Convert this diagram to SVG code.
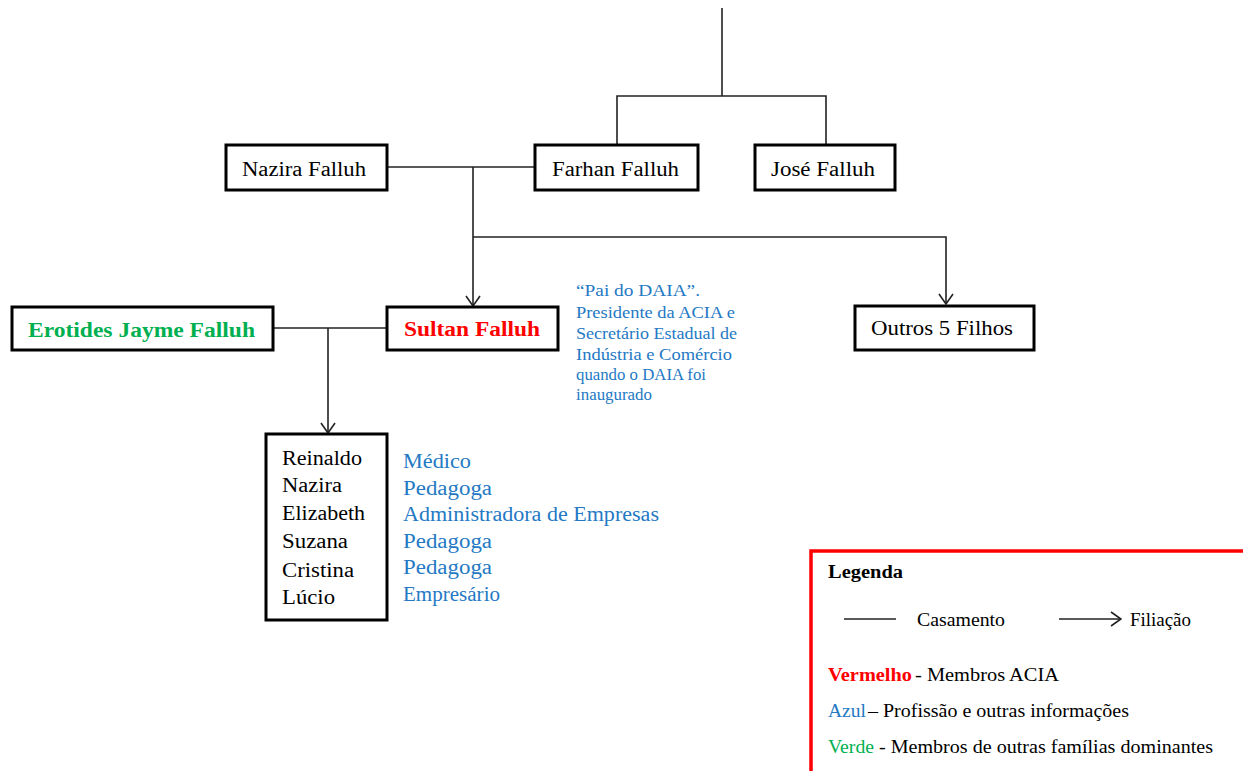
<svg xmlns="http://www.w3.org/2000/svg" width="1243" height="771" viewBox="0 0 1243 771">
  <style>
    .box { fill: #ffffff; stroke: #000000; stroke-width: 3; }
    .link { fill: none; stroke: #222222; stroke-width: 1.6; }
    .t { font-family: "Liberation Serif", "Times New Roman", serif; font-size: 20px; fill: #000000; }
    .note { font-family: "Liberation Serif", "Times New Roman", serif; font-size: 16px; fill: #2479c4; }
    .leg { font-family: "Liberation Serif", "Times New Roman", serif; font-size: 18px; fill: #000000; }
    .b { font-weight: bold; }
    .red { fill: #ff0000; }
    .green { fill: #00b050; }
    .blue { fill: #2479c4; }
  </style>
  <defs>
    <marker id="arrow" viewBox="0 0 12 16" refX="11" refY="8" markerWidth="12" markerHeight="16" markerUnits="userSpaceOnUse" orient="auto">
      <path d="M1,1 L11,8 L1,15" fill="none" stroke="#222222" stroke-width="1.6"/>
    </marker>
  </defs>

  <rect width="1243" height="771" fill="#ffffff"/>

  <!-- connectors -->
  <g id="connectors">
    <path class="link" d="M722,8 V96"/>
    <path class="link" d="M617,145 V96 H826 V145"/>
    <path class="link" d="M387,167 H535"/>
    <path class="link" d="M473,167 V306" marker-end="url(#arrow)"/>
    <path class="link" d="M473,237 H946 V304" marker-end="url(#arrow)"/>
    <path class="link" d="M273,328 H387"/>
    <path class="link" d="M328,328 V433" marker-end="url(#arrow)"/>
  </g>

  <!-- nodes -->
  <g id="nazira">
    <rect class="box" x="226" y="145" width="161" height="45"/>
    <text class="t" x="242" y="176" textLength="124" lengthAdjust="spacingAndGlyphs">Nazira Falluh</text>
  </g>
  <g id="farhan">
    <rect class="box" x="535" y="145" width="163" height="45"/>
    <text class="t" x="552" y="176" textLength="127" lengthAdjust="spacingAndGlyphs">Farhan Falluh</text>
  </g>
  <g id="jose">
    <rect class="box" x="755" y="145" width="140" height="45"/>
    <text class="t" x="771" y="176" textLength="104" lengthAdjust="spacingAndGlyphs">José Falluh</text>
  </g>
  <g id="erotides">
    <rect class="box" x="12" y="307" width="261" height="43"/>
    <text class="t b green" x="28" y="337" textLength="227" lengthAdjust="spacingAndGlyphs">Erotides Jayme Falluh</text>
  </g>
  <g id="sultan">
    <rect class="box" x="387" y="307" width="171" height="43"/>
    <text class="t b red" x="404" y="336" textLength="136" lengthAdjust="spacingAndGlyphs">Sultan Falluh</text>
  </g>
  <g id="outros">
    <rect class="box" x="855" y="306" width="179" height="44"/>
    <text class="t" x="871" y="335" textLength="142" lengthAdjust="spacingAndGlyphs">Outros 5 Filhos</text>
  </g>
  <g id="filhos">
    <rect class="box" x="266" y="434" width="121" height="186"/>
    <text class="t" x="282" y="465" textLength="80" lengthAdjust="spacingAndGlyphs">Reinaldo</text>
    <text class="t" x="282" y="492" textLength="60" lengthAdjust="spacingAndGlyphs">Nazira</text>
    <text class="t" x="282" y="520" textLength="83" lengthAdjust="spacingAndGlyphs">Elizabeth</text>
    <text class="t" x="282" y="548" textLength="66" lengthAdjust="spacingAndGlyphs">Suzana</text>
    <text class="t" x="282" y="577" textLength="72" lengthAdjust="spacingAndGlyphs">Cristina</text>
    <text class="t" x="282" y="604" textLength="53" lengthAdjust="spacingAndGlyphs">Lúcio</text>
  </g>

  <!-- professions of the children -->
  <g id="profissoes">
    <text class="t blue" x="403" y="468" textLength="68" lengthAdjust="spacingAndGlyphs">Médico</text>
    <text class="t blue" x="403" y="495" textLength="89" lengthAdjust="spacingAndGlyphs">Pedagoga</text>
    <text class="t blue" x="403" y="521" textLength="256" lengthAdjust="spacingAndGlyphs">Administradora de Empresas</text>
    <text class="t blue" x="403" y="548" textLength="89" lengthAdjust="spacingAndGlyphs">Pedagoga</text>
    <text class="t blue" x="403" y="574" textLength="89" lengthAdjust="spacingAndGlyphs">Pedagoga</text>
    <text class="t blue" x="403" y="601" textLength="97" lengthAdjust="spacingAndGlyphs">Empresário</text>
  </g>

  <!-- note on Sultan Falluh -->
  <g id="nota-sultan">
    <text class="note" x="576" y="296" textLength="124" lengthAdjust="spacingAndGlyphs">“Pai do DAIA”.</text>
    <text class="note" x="576" y="318" textLength="159" lengthAdjust="spacingAndGlyphs">Presidente da ACIA e</text>
    <text class="note" x="576" y="339" textLength="161" lengthAdjust="spacingAndGlyphs">Secretário Estadual de</text>
    <text class="note" x="576" y="360" textLength="156" lengthAdjust="spacingAndGlyphs">Indústria e Comércio</text>
    <text class="note" x="576" y="380" textLength="130" lengthAdjust="spacingAndGlyphs">quando o DAIA foi</text>
    <text class="note" x="576" y="400" textLength="76" lengthAdjust="spacingAndGlyphs">inaugurado</text>
  </g>

  <!-- legend -->
  <g id="legenda">
    <rect x="811" y="551" width="500" height="300" fill="#ffffff" stroke="#ff0000" stroke-width="3.5"/>
    <text class="leg b" x="828" y="578" textLength="75" lengthAdjust="spacingAndGlyphs">Legenda</text>
    <path class="link" d="M844,619 H896"/>
    <text class="leg" x="917" y="626" textLength="88" lengthAdjust="spacingAndGlyphs">Casamento</text>
    <path class="link" d="M1059,619 H1121" marker-end="url(#arrow)"/>
    <text class="leg" x="1130" y="626" textLength="61" lengthAdjust="spacingAndGlyphs">Filiação</text>
    <text class="leg b red" x="828" y="681" textLength="84" lengthAdjust="spacingAndGlyphs">Vermelho</text>
    <text class="leg" x="915" y="681" textLength="144" lengthAdjust="spacingAndGlyphs">- Membros ACIA</text>
    <text class="leg blue" x="828" y="717" textLength="38" lengthAdjust="spacingAndGlyphs">Azul</text>
    <text class="leg" x="868" y="717" textLength="261" lengthAdjust="spacingAndGlyphs">– Profissão e outras informações</text>
    <text class="leg green" x="828" y="753" textLength="46" lengthAdjust="spacingAndGlyphs">Verde</text>
    <text class="leg" x="879" y="753" textLength="334" lengthAdjust="spacingAndGlyphs">- Membros de outras famílias  dominantes</text>
  </g>
</svg>
